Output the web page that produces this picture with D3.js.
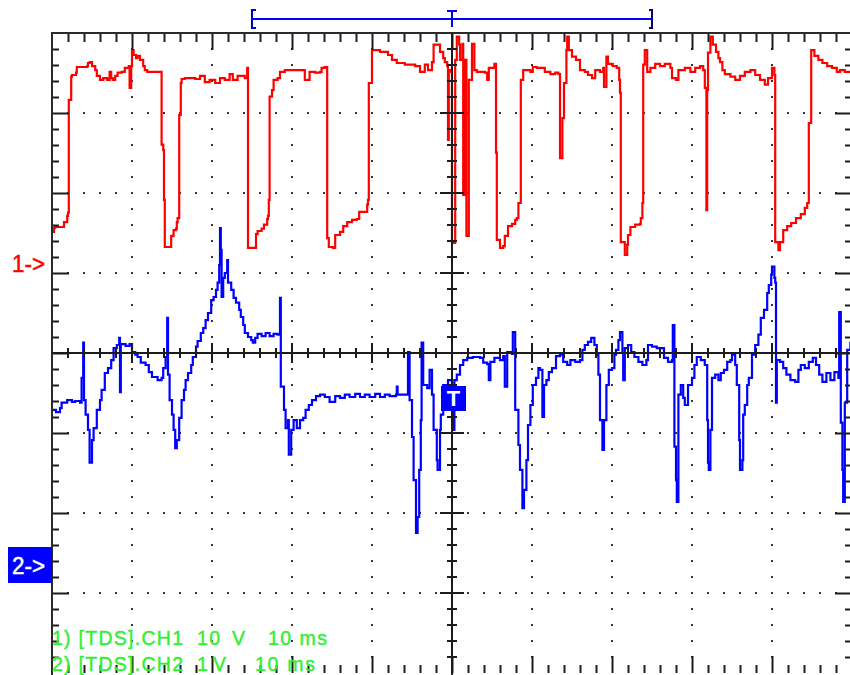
<!DOCTYPE html>
<html><head><meta charset="utf-8">
<script src="https://cdn.jsdelivr.net/npm/d3@7"></script>
<style>body{margin:0;background:#fff}svg{display:block}</style>
</head><body>
<svg id="c" width="850" height="675"></svg>
<script>
// ---- scope settings ----
const timeDomainMs = [-50, 50];     // 10 ms/div, trigger at centre
const ch1VoltsPerDiv = 10;
const ch2VoltsPerDiv = 1;
const ch1ZeroDiv = 1.125;           // channel 1 ground marker (divisions above centre)
const ch2ZeroDiv = -2.65;           // channel 2 ground marker
const recordWindowMs = [-25, 25];
const channelMarkers = ["1->", "2->"];
const legendCh1 = ["1) [TDS].CH1", "10", "V", "10 ms"];
const legendCh2 = ["2) [TDS].CH2", "1", "V", "10 ms"];

// ---- CH1 trace: [time ms, volts] ----
const ch1Trace = [[-50,3.9],[-49.75,4.4],[-49.6,4.5],[-48.6,4.5],[-48.5,5.1],[-48.1,5.9],[-48,6.3],[-47.9,7.9],[-47.9,20.4],[-47.6,20.8],[-47.6,23.3],[-47.5,23.5],[-47,23.8],[-46.9,24.5],[-45.6,24.6],[-45.5,25.0],[-45.3,25.1],[-45,24.6],[-44.6,24.1],[-44.4,23.4],[-44,22.9],[-43.6,23.1],[-43.1,22.9],[-42.8,23.9],[-42.6,23.1],[-42.4,22.9],[-42.1,23.4],[-41.8,23.8],[-41.3,23.9],[-40.9,24.4],[-40.4,24.6],[-40.3,21.9],[-40.1,24.6],[-40,26.6],[-39.8,26.0],[-39.5,25.6],[-39.3,25.9],[-39,25.4],[-38.6,24.6],[-38.4,24.1],[-38.1,23.9],[-36.4,23.9],[-36.3,23.8],[-36.3,14.8],[-36.1,14.1],[-36,7.9],[-35.9,2.0],[-35.3,2.0],[-35.1,3.4],[-34.8,4.1],[-34.5,4.3],[-34.4,5.1],[-34.3,5.6],[-34.1,7.9],[-34.1,18.5],[-33.9,22.5],[-33.8,23.0],[-33.4,23.1],[-32.1,23.0],[-31.5,23.4],[-30.9,22.6],[-30.3,22.9],[-29.6,22.5],[-29,23.1],[-28.4,22.9],[-27.8,23.6],[-27.4,22.9],[-26.8,23.4],[-25.9,23.1],[-25.6,24.4],[-25.5,23.9],[-25.5,1.9],[-24.6,1.9],[-24.5,3.6],[-24.3,4.0],[-23.8,4.3],[-23.5,4.8],[-23.1,5.5],[-23,5.9],[-22.9,7.9],[-22.8,20.8],[-22.5,21.6],[-22.3,22.9],[-21.8,23.1],[-21.5,23.9],[-20.9,24.1],[-19,24.1],[-18.4,22.9],[-17.8,23.9],[-17.1,23.8],[-16.5,23.9],[-16.3,24.4],[-15.9,24.5],[-15.6,24.1],[-15.6,3.1],[-15.4,2.0],[-14.9,1.9],[-14.6,3.5],[-14,3.9],[-13.6,4.6],[-13.1,5.1],[-12.5,5.4],[-11.9,5.5],[-11.6,6.4],[-10.9,6.4],[-10.6,7.3],[-10.5,7.9],[-10.4,22.5],[-10,26.6],[-9,26.4],[-8,26.0],[-7.5,25.4],[-6.9,25.0],[-5.9,24.8],[-4.6,24.6],[-4,23.9],[-3.4,24.8],[-3,24.1],[-2.5,25.1],[-2.3,27.3],[-1.9,27.3],[-1.5,26.4],[-1.1,25.6],[-0.9,25.1],[-0.6,24.6],[-0.5,15.4],[-0.4,24.1],[-0.1,23.9],[0,2.5],[0.3,2.5],[0.4,25.4],[0.6,28.3],[0.9,27.3],[1,25.4],[1.3,27.4],[1.4,8.5],[1.5,8.5],[1.6,25.4],[1.8,3.4],[2,3.4],[2.1,22.9],[2.5,27.4],[2.8,24.1],[3.1,23.9],[4.1,23.8],[4.4,22.9],[4.6,24.4],[5.3,24.9],[5.5,13.8],[5.6,2.9],[6,1.9],[6.4,2.1],[6.6,3.4],[7,4.6],[7.5,4.9],[7.9,5.4],[8.1,5.6],[8.3,7.5],[8.5,7.5],[8.6,22.9],[8.9,24.1],[9.8,23.9],[10.1,24.5],[10.6,24.4],[11.3,24.4],[11.6,23.9],[12.3,23.6],[12.9,23.8],[13.3,23.6],[13.5,13.1],[13.6,13.1],[13.8,18.1],[14,22.5],[14.3,26.6],[14.4,28.3],[14.6,26.6],[15,25.8],[15.5,25.4],[16,24.1],[16.6,23.9],[17,23.5],[17.5,23.1],[17.9,24.1],[18.5,23.9],[18.9,24.4],[19,22.0],[19.3,25.8],[19.5,24.9],[20.1,24.6],[20.6,24.4],[20.9,22.9],[21,21.3],[21.1,2.6],[21.6,1.0],[21.9,2.3],[22,3.5],[22.3,4.5],[22.9,4.8],[23.5,4.9],[23.6,5.6],[23.8,7.5],[23.9,7.9],[23.9,24.8],[24.1,26.6],[24.4,23.9],[24.8,24.4],[25.4,24.9],[26,24.6],[26.6,24.9],[27.3,24.4],[27.5,23.1],[28,22.9],[28.3,24.1],[29.1,24.4],[29.8,23.9],[30.4,24.4],[31,24.6],[31.4,24.1],[31.6,21.9],[31.8,6.6],[31.9,21.6],[32,26.3],[32.3,28.3],[32.6,27.3],[33,26.4],[33.3,25.6],[33.5,25.1],[33.8,24.1],[34.1,23.6],[34.8,23.3],[35.4,22.9],[36,23.4],[36.6,23.9],[37.3,24.1],[37.9,23.5],[38.5,22.9],[39.1,22.3],[39.5,23.1],[40,24.4],[40.3,23.5],[40.4,2.6],[40.8,1.6],[41,2.6],[41.4,4.1],[41.9,4.6],[42.4,5.0],[43,5.6],[43.6,6.1],[44.1,6.9],[44.4,7.5],[44.6,17.5],[44.9,26.6],[45.3,25.9],[45.8,25.4],[46.3,25.0],[46.9,24.6],[47.5,24.4],[48.1,23.9],[48.5,24.1],[49.1,23.9],[49.8,23.8]];

// ---- CH2 trace: [time ms, volts] ----
const ch2Trace = [[-50,1.94],[-49.5,1.91],[-49,1.96],[-48.8,2.03],[-48.1,2.06],[-47.5,2.04],[-47.1,2.05],[-46.5,2.03],[-46.3,2.34],[-46.1,2.78],[-46,2.06],[-45.8,1.88],[-45.5,1.69],[-45.3,1.28],[-45,1.56],[-44.8,1.71],[-44.4,1.94],[-44,2.06],[-43.8,2.19],[-43.4,2.40],[-43,2.46],[-42.6,2.56],[-42.3,2.71],[-41.9,2.75],[-41.6,2.84],[-41.5,2.16],[-41.4,2.76],[-40.8,2.74],[-40.3,2.76],[-40,2.66],[-39.6,2.63],[-39.3,2.60],[-38.9,2.53],[-38.3,2.50],[-37.9,2.41],[-37.5,2.35],[-36.8,2.31],[-36.3,2.34],[-36.1,2.46],[-35.8,2.60],[-35.6,3.09],[-35.5,2.38],[-35.3,2.06],[-35,1.88],[-34.8,1.69],[-34.6,1.46],[-34.4,1.56],[-34.1,1.84],[-33.8,2.06],[-33.5,2.19],[-33.3,2.31],[-33,2.40],[-32.6,2.50],[-32.4,2.60],[-32,2.73],[-31.8,2.80],[-31.4,2.90],[-31.1,2.96],[-30.8,3.06],[-30.5,3.15],[-30.1,3.31],[-29.8,3.35],[-29.5,3.44],[-29.3,3.53],[-29.1,3.75],[-29,4.21],[-28.9,3.94],[-28.8,3.35],[-28.6,3.59],[-28.4,3.65],[-28.1,3.81],[-28,3.53],[-27.6,3.44],[-27.3,3.34],[-27,3.28],[-26.6,3.19],[-26.4,3.10],[-26.1,3.00],[-25.9,2.90],[-25.5,2.85],[-25.1,2.81],[-24.9,2.78],[-24.6,2.84],[-24.3,2.89],[-23.8,2.86],[-23.3,2.90],[-22.8,2.86],[-22.3,2.89],[-21.8,2.88],[-21.5,3.34],[-21.4,2.23],[-21,1.94],[-20.8,1.71],[-20.5,1.81],[-20.4,1.38],[-20.1,1.69],[-19.8,1.81],[-19.4,1.71],[-19,1.81],[-18.6,1.84],[-18.3,1.94],[-17.9,2.00],[-17.5,2.06],[-17,2.11],[-16.5,2.13],[-15.9,2.10],[-15.3,2.04],[-14.6,2.11],[-14,2.09],[-13.4,2.13],[-12.8,2.10],[-12.1,2.14],[-11.5,2.10],[-10.9,2.13],[-10.3,2.10],[-9.6,2.14],[-9,2.10],[-8.4,2.13],[-7.8,2.11],[-7,2.13],[-6.9,2.23],[-6.8,2.13],[-5.9,2.13],[-5.5,2.66],[-5.3,2.06],[-5,1.60],[-4.8,1.06],[-4.5,0.40],[-4.3,0.60],[-4.1,1.19],[-3.9,1.81],[-3.8,2.78],[-3.6,2.25],[-3.1,2.21],[-2.8,2.44],[-2.5,2.13],[-2.3,1.69],[-1.9,1.31],[-1.8,1.19],[-1.5,1.69],[-1.4,1.88],[-1.1,2.25],[-0.5,2.31],[0,2.23],[0.1,1.69],[0.3,2.31],[0.6,2.38],[1,2.50],[1.4,2.56],[1.9,2.59],[2.6,2.60],[3.5,2.59],[3.9,2.53],[4.4,2.51],[4.6,2.31],[4.8,2.54],[5.3,2.59],[6,2.56],[6.4,2.61],[6.6,2.23],[6.9,2.66],[7.5,2.64],[7.6,2.91],[7.9,1.94],[8.3,1.50],[8.5,1.19],[8.8,0.71],[9,0.94],[9.3,1.31],[9.5,1.75],[9.8,2.00],[10.1,2.25],[10.5,2.34],[10.8,2.46],[11,2.44],[11.3,1.85],[11.5,2.25],[11.8,2.31],[12.1,2.41],[12.5,2.46],[13,2.61],[13.5,2.63],[13.9,2.54],[14.4,2.50],[14.8,2.56],[15.4,2.54],[16,2.56],[16.3,2.69],[16.6,2.75],[17,2.79],[17.4,2.84],[17.8,2.75],[18.1,2.63],[18.3,2.38],[18.5,1.81],[18.8,1.44],[19,1.81],[19.3,2.25],[19.6,2.44],[20,2.46],[20.3,2.63],[20.5,2.69],[20.8,2.81],[21,2.91],[21.3,2.65],[21.4,2.31],[21.6,2.71],[22,2.75],[22.4,2.66],[22.8,2.60],[23.3,2.54],[23.8,2.50],[24.3,2.56],[24.5,2.75],[25,2.73],[25.6,2.71],[26.3,2.71],[26.5,2.59],[27,2.54],[27.5,2.56],[27.6,3.00],[27.8,1.48],[28,1.06],[28.1,0.79],[28.3,2.13],[28.6,2.25],[28.9,2.09],[29.1,2.00],[29.5,2.25],[30,2.34],[30.3,2.50],[30.6,2.60],[31.1,2.56],[31.6,2.50],[31.9,1.81],[32,1.28],[32.1,1.19],[32.3,1.69],[32.5,2.34],[32.9,2.38],[33.3,2.31],[33.6,2.40],[34,2.44],[34.4,2.54],[34.8,2.56],[35,2.63],[35.4,2.50],[35.6,2.25],[35.9,1.56],[36,1.19],[36.3,1.31],[36.4,1.88],[36.6,2.00],[36.9,2.25],[37.1,2.34],[37.5,2.63],[37.9,2.75],[38.3,2.88],[38.6,3.09],[39,3.19],[39.4,3.40],[39.6,3.50],[39.9,3.63],[40,3.73],[40.3,3.59],[40.4,3.53],[40.5,2.03],[40.6,2.56],[41,2.54],[41.4,2.46],[41.8,2.38],[42.3,2.31],[42.9,2.29],[43.3,2.44],[43.6,2.50],[44.1,2.46],[44.6,2.54],[45.1,2.59],[45.5,2.50],[45.9,2.38],[46.3,2.29],[46.8,2.40],[47.3,2.31],[47.8,2.41],[48.3,2.34],[48.4,3.16],[48.6,1.78],[48.8,1.19],[48.9,0.79],[49.1,2.03],[49.4,2.69],[49.8,2.79]];

// ---- geometry ----
const L = 52, R = 852, T = 33, B = 673;
const svg = d3.select("#c");
const x = d3.scaleLinear().domain(timeDomainMs).range([L, R]);
const yDiv = d3.scaleLinear().domain([-4, 4]).range([B, T]);
const y1 = d3.scaleLinear().domain([(-4 - ch1ZeroDiv) * ch1VoltsPerDiv, (4 - ch1ZeroDiv) * ch1VoltsPerDiv]).range([B, T]);
const y2 = d3.scaleLinear().domain([(-4 - ch2ZeroDiv) * ch2VoltsPerDiv, (4 - ch2ZeroDiv) * ch2VoltsPerDiv]).range([B, T]);

const minorT = d3.range(-24, 25).map(i => i * 2);
const majorT = d3.range(-4, 5).map(i => i * 10);
const minorD = d3.range(-19, 20).map(i => +(i * 0.2).toFixed(1));
const majorD = [-3, -2, -1, 0, 1, 2, 3];
const ink = "#1c1c1c";
const fam = "Liberation Sans, Arial, sans-serif";

svg.append("rect").attr("width", 850).attr("height", 675).attr("fill", "#fff");

// grid dots
const dots = [];
majorD.filter(d => d !== 0).forEach(d => minorT.filter(t => t !== 0).forEach(t => dots.push([x(t), yDiv(d)])));
majorT.filter(t => t !== 0).forEach(t => minorD.filter(d => d !== 0 && !majorD.includes(d)).forEach(d => dots.push([x(t), yDiv(d)])));
svg.append("g").selectAll("rect").data(dots).join("rect")
  .attr("x", d => d[0] - 1).attr("y", d => d[1] - 1).attr("width", 2).attr("height", 2).attr("fill", "#333");

// traces
svg.append("clipPath").attr("id", "pc").append("rect")
  .attr("x", L).attr("y", T).attr("width", R - L).attr("height", B - T);
const line1 = d3.line().x(d => x(d[0])).y(d => y1(d[1])).curve(d3.curveStepAfter);
const line2 = d3.line().x(d => x(d[0])).y(d => y2(d[1])).curve(d3.curveStepAfter);
const tg = svg.append("g").attr("clip-path", "url(#pc)");
tg.append("path").datum(ch1Trace).attr("d", line1).attr("fill", "none").attr("stroke", "#ff0000").attr("stroke-width", 2.2);
tg.append("path").datum(ch2Trace).attr("d", line2).attr("fill", "none").attr("stroke", "#0000ff").attr("stroke-width", 2.2);

// border ticks via axes
function clean(g) { g.select(".domain").remove(); g.selectAll("text").remove(); g.selectAll("line").attr("stroke", ink).attr("stroke-width", 2); }
const minorTB = minorT.filter(t => !majorT.includes(t));
const minorDL = minorD.filter(d => !majorD.includes(d));
svg.append("g").attr("transform", `translate(0,${T})`).call(d3.axisBottom(x).tickValues(minorTB).tickSize(9)).call(clean);
svg.append("g").attr("transform", `translate(0,${T})`).call(d3.axisBottom(x).tickValues(majorT).tickSize(17)).call(clean);
svg.append("g").attr("transform", `translate(0,${B})`).call(d3.axisTop(x).tickValues(minorTB).tickSize(8)).call(clean);
svg.append("g").attr("transform", `translate(0,${B})`).call(d3.axisTop(x).tickValues(majorT).tickSize(17)).call(clean);
svg.append("g").attr("transform", `translate(${L},0)`).call(d3.axisRight(yDiv).tickValues(minorDL).tickSize(7)).call(clean);
svg.append("g").attr("transform", `translate(${L},0)`).call(d3.axisRight(yDiv).tickValues(majorD).tickSize(17)).call(clean);
svg.append("g").attr("transform", `translate(${R},0)`).call(d3.axisLeft(yDiv).tickValues(minorDL).tickSize(7)).call(clean);
svg.append("g").attr("transform", `translate(${R},0)`).call(d3.axisLeft(yDiv).tickValues(majorD).tickSize(17)).call(clean);

// border (left and top visible spines)
svg.append("path").attr("d", `M${L},${B + 2}V${T}H${R}`).attr("fill", "none").attr("stroke", "#2a2a2a").attr("stroke-width", 2);

// centre axes with cross ticks
const cx = x(0), cy = yDiv(0);
const ax = svg.append("g").attr("stroke", ink).attr("stroke-width", 2);
ax.append("line").attr("x1", L).attr("x2", R).attr("y1", cy).attr("y2", cy);
ax.append("line").attr("x1", cx).attr("x2", cx).attr("y1", T).attr("y2", B + 2);
ax.selectAll(".ht").data(minorT).join("line")
  .attr("x1", d => x(d)).attr("x2", d => x(d))
  .attr("y1", d => cy - (majorT.includes(d) ? 10 : 5)).attr("y2", d => cy + (majorT.includes(d) ? 10 : 5));
ax.selectAll(".vt").data(minorD).join("line")
  .attr("y1", d => yDiv(d)).attr("y2", d => yDiv(d))
  .attr("x1", d => cx - (majorD.includes(d) ? 12 : 5)).attr("x2", d => cx + (majorD.includes(d) ? 12 : 5));

// record window bracket
const bx0 = x(recordWindowMs[0]), bx1 = x(recordWindowMs[1]);
const bk = svg.append("g").attr("fill", "none").attr("stroke-width", 2);
bk.append("line").attr("x1", bx0).attr("x2", bx1).attr("y1", 19).attr("y2", 19).attr("stroke", "#0000ff");
bk.append("path").attr("d", `M${bx0 + 4},10H${bx0}V28H${bx0 + 4}`).attr("stroke", "#0000cc");
bk.append("path").attr("d", `M${bx1 - 3},10H${bx1}V28H${bx1 - 3}`).attr("stroke", "#000080");
bk.append("path").attr("d", `M${cx - 5},11H${cx + 5}M${cx},11V27`).attr("stroke", "#0000ff");

// trigger marker
svg.append("rect").attr("x", cx - 11).attr("y", 386).attr("width", 25).attr("height", 25).attr("fill", "#0000ff");
svg.append("text").attr("x", cx + 1.5).attr("y", 406).attr("text-anchor", "middle")
  .attr("font-family", fam).attr("font-size", 22).attr("font-weight", "bold")
  .attr("fill", "#fff").text("T");

// channel markers
svg.append("text").attr("x", 12).attr("y", yDiv(ch1ZeroDiv) + 8.5).attr("font-family", fam).attr("font-size", 23)
  .attr("fill", "#ff0000").attr("stroke", "#ff0000").attr("stroke-width", 0.5)
  .attr("textLength", 33).attr("lengthAdjust", "spacingAndGlyphs").text(channelMarkers[0]);
svg.append("rect").attr("x", 8).attr("y", yDiv(ch2ZeroDiv) - 18).attr("width", L - 8).attr("height", 36).attr("fill", "#0000ff");
svg.append("text").attr("x", 12).attr("y", yDiv(ch2ZeroDiv) + 8.5).attr("font-family", fam).attr("font-size", 23)
  .attr("fill", "#fff").attr("stroke", "#fff").attr("stroke-width", 0.5)
  .attr("textLength", 33).attr("lengthAdjust", "spacingAndGlyphs").text(channelMarkers[1]);

// legend (tokens placed at measured columns)
const legX1 = [[52, 131], [197, 23], [232, 16], [268, 59]];
const legX2 = [[52, 131], [197, 7], [213, 17], [255, 60]];
const lg = svg.append("g").attr("font-family", fam).attr("font-size", 19.5)
  .attr("fill", "#33ee33").attr("stroke", "#33ee33").attr("stroke-width", 0.4);
lg.selectAll(".l1").data(legendCh1).join("text").attr("x", (d, i) => legX1[i][0]).attr("y", 645)
  .attr("textLength", (d, i) => legX1[i][1]).attr("lengthAdjust", "spacing").text(d => d);
lg.selectAll(".l2").data(legendCh2).join("text").attr("x", (d, i) => legX2[i][0]).attr("y", 671)
  .attr("textLength", (d, i) => legX2[i][1]).attr("lengthAdjust", "spacing").text(d => d);
</script>
</body></html>
